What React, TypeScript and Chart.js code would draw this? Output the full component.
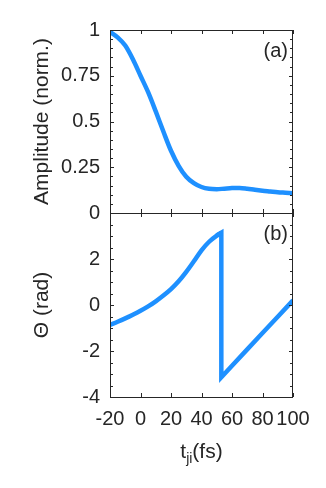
import React, { useEffect, useRef } from 'react';
import { Chart, registerables } from 'chart.js';
Chart.register(...registerables);

// ---- data ----
const ampTime = [-20, -15, -10, -5, 0, 5, 10, 15, 20, 25, 30, 35, 40, 45, 50, 55, 60, 65, 70, 75, 80, 85, 90, 95, 100];
const amplitude = [0.99, 0.96, 0.915, 0.84, 0.75, 0.66, 0.555, 0.445, 0.34, 0.258, 0.198, 0.163, 0.142, 0.132, 0.13, 0.133, 0.136, 0.137, 0.133, 0.127, 0.122, 0.118, 0.114, 0.111, 0.108];

const riseTime = [-20, -15, -10, -5, 0, 5, 10, 15, 20, 25, 30, 35, 40, 45, 50, 53];
const phaseRise = [-0.87, -0.73, -0.58, -0.42, -0.25, -0.06, 0.16, 0.41, 0.69, 1.03, 1.44, 1.9, 2.38, 2.75, 3.02, 3.14];

const fallTime = [50, 53, 53, 60, 70, 80, 90, 100];
const phaseFall = [3.02, 3.14, -3.14, -2.64, -1.93, -1.22, -0.51, 0.2];

const xTickValues = [-20, 0, 20, 40, 60, 80, 100];
const ampTickValues = [0, 0.25, 0.5, 0.75, 1];
const phaseTickValues = [-4, -2, 0, 2, 4];

const FONT = '"Liberation Sans", Arial, Helvetica, sans-serif';
const AXIS = '#262626';
const BLUE = '#1E90FF';
const TICK_SIZE = 20;
const LABEL_SIZE = 21;

function toPoints(xs: number[], ys: number[]) {
  return xs.map((x, i) => ({ x, y: ys[i] }));
}

function framePlugin(minorStep: number, label: string, drawXTitle: boolean) {
  return {
    id: 'frame',
    afterDraw(chart: any) {
      const { ctx, chartArea: a, scales } = chart;
      const xs = scales.x;
      const ys = scales.y;
      ctx.save();
      ctx.strokeStyle = AXIS;
      ctx.lineWidth = 1;
      ctx.strokeRect(Math.round(a.left) + 0.5, Math.round(a.top) + 0.5, Math.round(a.right - a.left) - 1, Math.round(a.bottom - a.top));
      ctx.beginPath();
      const major = 4;
      const minor = 3;
      xs.ticks.forEach((t: any) => {
        const px = Math.round(xs.getPixelForValue(t.value)) + 0.5;
        ctx.moveTo(px, a.bottom);
        ctx.lineTo(px, a.bottom - major);
        ctx.moveTo(px, a.top);
        ctx.lineTo(px, a.top + major);
      });
      const n = Math.round((ys.max - ys.min) / minorStep);
      for (let i = 0; i <= n; i++) {
        const v = ys.min + i * minorStep;
        const py = Math.round(ys.getPixelForValue(v)) + 0.5;
        const isMajor = ys.ticks.some((t: any) => Math.abs(t.value - v) < 1e-6);
        const len = isMajor ? major : minor;
        ctx.moveTo(a.left, py);
        ctx.lineTo(a.left + len, py);
        ctx.moveTo(a.right, py);
        ctx.lineTo(a.right - len, py);
      }
      ctx.stroke();

      ctx.fillStyle = AXIS;
      ctx.font = `${TICK_SIZE}px ${FONT}`;
      ctx.textAlign = 'right';
      ctx.textBaseline = 'middle';
      ctx.fillText(label, a.right - 5, a.top + 21);

      if (drawXTitle) {
        const main = `${LABEL_SIZE}px ${FONT}`;
        const sub = `14px ${FONT}`;
        ctx.font = main;
        const w1 = ctx.measureText('t').width;
        const w3 = ctx.measureText('(fs)').width;
        ctx.font = sub;
        const w2 = ctx.measureText('ji').width;
        const total = w1 + w2 + w3;
        let x = (a.left + a.right) / 2 - total / 2;
        ctx.textAlign = 'left';
        ctx.textBaseline = 'alphabetic';
        const base = a.bottom + 61;
        ctx.font = main;
        ctx.fillText('t', x, base);
        x += w1;
        ctx.font = sub;
        ctx.fillText('ji', x, base + 5);
        x += w2;
        ctx.font = main;
        ctx.fillText('(fs)', x, base);
      }
      ctx.restore();
    },
  };
}

function yScale(min: number, max: number, tickValues: number[], hide: number[], title: string) {
  return {
    type: 'linear',
    position: 'left',
    min,
    max,
    afterFit: (s: any) => {
      s.width = 110;
    },
    afterBuildTicks: (s: any) => {
      s.ticks = tickValues.map((v) => ({ value: v }));
    },
    ticks: {
      autoSkip: false,
      padding: 10,
      color: AXIS,
      font: { family: FONT, size: TICK_SIZE },
      callback: (v: any) => (hide.includes(Number(v)) ? '' : String(v)),
    },
    grid: { display: false, drawTicks: false },
    border: { display: false },
    title: {
      display: true,
      text: title,
      color: AXIS,
      font: { family: FONT, size: LABEL_SIZE },
      padding: { top: 30, bottom: 0 },
    },
  };
}

export default function App() {
  const topRef = useRef<HTMLCanvasElement>(null);
  const botRef = useRef<HTMLCanvasElement>(null);

  useEffect(() => {
    const common = {
      responsive: false,
      maintainAspectRatio: false,
      animation: false,
      devicePixelRatio: 1,
      plugins: { legend: { display: false }, tooltip: { enabled: false } },
      elements: { point: { radius: 0 } },
    };

    const top = new Chart(topRef.current as HTMLCanvasElement, {
      type: 'line',
      data: {
        datasets: [
          {
            data: toPoints(ampTime, amplitude),
            borderColor: BLUE,
            borderWidth: 4.5,
            cubicInterpolationMode: 'monotone',
            pointRadius: 0,
          },
        ],
      },
      options: {
        ...common,
        layout: { padding: { left: 0, top: 30, right: 33, bottom: 275 } },
        scales: {
          x: {
            type: 'linear',
            min: -20,
            max: 100,
            display: false,
            afterBuildTicks: (s: any) => {
              s.ticks = xTickValues.map((v) => ({ value: v }));
            },
          },
          y: yScale(0, 1, ampTickValues, [], 'Amplitude (norm.)'),
        },
      } as any,
      plugins: [framePlugin(0.05, '(a)', false)],
    } as any);

    const bot = new Chart(botRef.current as HTMLCanvasElement, {
      type: 'line',
      data: {
        datasets: [
          {
            data: toPoints(riseTime, phaseRise),
            borderColor: BLUE,
            borderWidth: 4.5,
            cubicInterpolationMode: 'monotone',
            pointRadius: 0,
          },
          {
            data: toPoints(fallTime, phaseFall),
            borderColor: BLUE,
            borderWidth: 4.5,
            tension: 0,
            pointRadius: 0,
          },
        ],
      },
      options: {
        ...common,
        layout: { padding: { left: 0, top: 213, right: 33, bottom: 0 } },
        scales: {
          x: {
            type: 'linear',
            position: 'bottom',
            min: -20,
            max: 100,
            afterFit: (s: any) => {
              s.height = 91;
            },
            afterBuildTicks: (s: any) => {
              s.ticks = xTickValues.map((v) => ({ value: v }));
            },
            ticks: {
              autoSkip: false,
              maxRotation: 0,
              padding: 10,
              color: AXIS,
              font: { family: FONT, size: TICK_SIZE },
              callback: (v: any) => String(v),
            },
            grid: { display: false, drawTicks: false },
            border: { display: false },
          },
          y: yScale(-4, 4, phaseTickValues, [4], 'Θ (rad)'),
        },
      } as any,
      plugins: [framePlugin(0.5, '(b)', true)],
    } as any);

    return () => {
      top.destroy();
      bot.destroy();
    };
  }, []);

  return (
    <div style={{ position: 'absolute', left: 0, top: 0, width: 326, height: 488, background: '#fff' }}>
      <canvas ref={botRef} width={326} height={488} style={{ position: 'absolute', left: 0, top: 0 }} />
      <canvas ref={topRef} width={326} height={488} style={{ position: 'absolute', left: 0, top: 0 }} />
    </div>
  );
}
